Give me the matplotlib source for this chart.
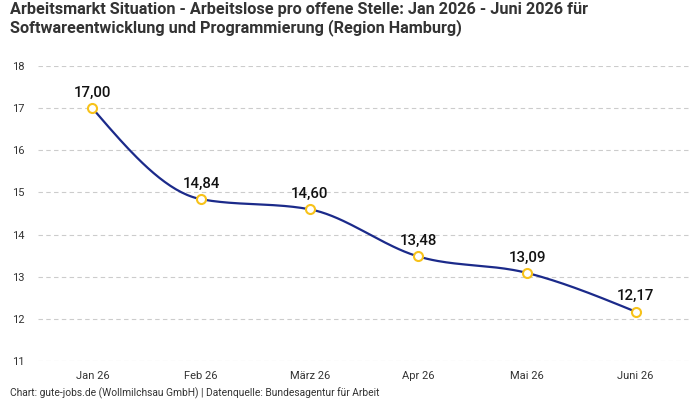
import numpy as np
import matplotlib.pyplot as plt

# --- Daten ---
monate = ['Jan 26', 'Feb 26', 'März 26', 'Apr 26', 'Mai 26', 'Juni 26']
werte = [17.00, 14.84, 14.60, 13.48, 13.09, 12.17]

plt.rcParams['font.family'] = ['Roboto', 'DejaVu Sans']


# Monotone Kurve (wie d3 curveMonotoneX)
def monotone_kurve(xs, ys, n=40):
    xs = np.asarray(xs, float)
    ys = np.asarray(ys, float)
    h = np.diff(xs)
    s = np.diff(ys) / h
    m = np.zeros(len(xs))
    for i in range(1, len(xs) - 1):
        p = (s[i - 1] * h[i] + s[i] * h[i - 1]) / (h[i - 1] + h[i])
        m[i] = (np.sign(s[i - 1]) + np.sign(s[i])) * min(abs(s[i - 1]), abs(s[i]), 0.5 * abs(p))
    m[0] = (3 * s[0] - m[1]) / 2
    m[-1] = (3 * s[-1] - m[-2]) / 2
    px, py = [], []
    for i in range(len(xs) - 1):
        t = np.linspace(0, 1, n)
        h00 = 2 * t**3 - 3 * t**2 + 1
        h10 = t**3 - 2 * t**2 + t
        h01 = -2 * t**3 + 3 * t**2
        h11 = t**3 - t**2
        px.extend(xs[i] + t * h[i])
        py.extend(h00 * ys[i] + h10 * h[i] * m[i] + h01 * ys[i + 1] + h11 * h[i] * m[i + 1])
    return np.array(px), np.array(py)


fig = plt.figure(figsize=(7, 4), dpi=100)
ax = fig.add_axes([38 / 700, 1 - 361 / 400, 652 / 700, 295 / 400])

x = np.arange(len(monate))
kx, ky = monotone_kurve(x, werte)
ax.plot(kx, ky, color='#1b2a8a', lw=1.6, zorder=3)
ax.plot(x, werte, 'o', ms=6.5, mfc='white', mec='#f7c21a', mew=1.5, zorder=4)

for xi, wi in zip(x, werte):
    ax.annotate(f'{wi:.2f}'.replace('.', ','), (xi, wi), xytext=(0, 6),
                textcoords='offset points', ha='center', va='bottom',
                fontsize=10.8, color='#111111', fontweight='medium')

ax.set_xlim(-0.5, 5.5)
ax.set_ylim(11, 18)
ax.set_yticks(range(11, 19))
ax.set_xticks(x)
ax.set_xticklabels(monate)
ax.grid(axis='y', color='#cccccc', ls=(0, (4, 3)), lw=0.8)
ax.set_axisbelow(True)
for sp in ax.spines.values():
    sp.set_visible(False)
ax.tick_params(length=0, labelsize=8, colors='#333333')
ax.tick_params(axis='y', pad=9.5)
ax.tick_params(axis='x', pad=7)

fig.text(10 / 700, 1 - 2 / 400,
         'Arbeitsmarkt Situation - Arbeitslose pro offene Stelle: Jan 2026 - Juni 2026 für\n'
         'Softwareentwicklung und Programmierung (Region Hamburg)',
         ha='left', va='top', fontsize=11.7, fontweight='bold', color='#333333', linespacing=1.15)
fig.text(10 / 700, 1 - 393 / 400,
         'Chart: gute-jobs.de (Wollmilchsau GmbH) | Datenquelle: Bundesagentur für Arbeit',
         ha='left', va='center', fontsize=7.4, color='#333333')

fig.savefig('out.png', dpi=100)
